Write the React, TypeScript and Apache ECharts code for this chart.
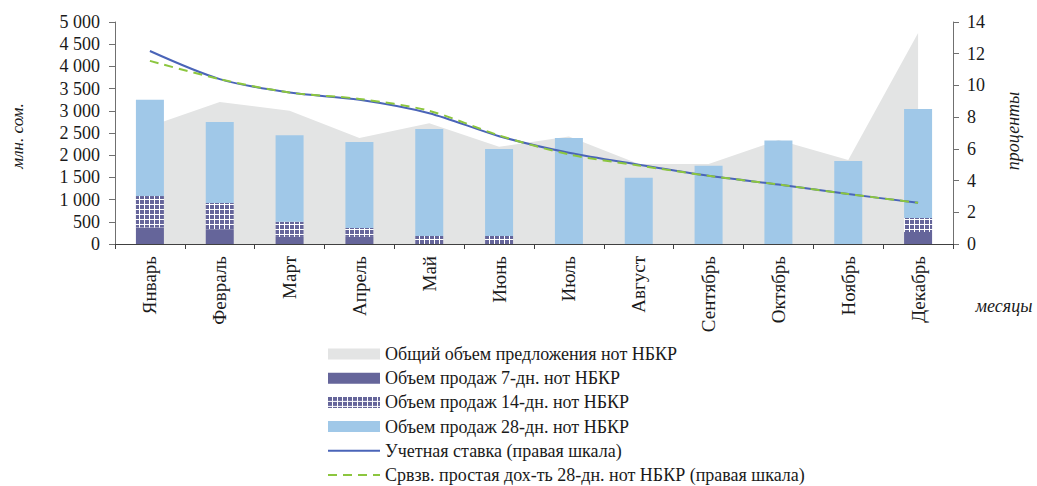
import React, { useEffect, useRef } from "react";
import * as echarts from "echarts";

const months = ["Январь", "Февраль", "Март", "Апрель", "Май", "Июнь", "Июль", "Август", "Сентябрь", "Октябрь", "Ноябрь", "Декабрь"];
const totalOffer = [2650, 3200, 3000, 2390, 2720, 2190, 2420, 1800, 1800, 2340, 1890, 4750];
const sales7 = [370, 335, 160, 160, 0, 0, 0, 0, 0, 0, 0, 270];
const sales14 = [710, 590, 340, 200, 180, 180, 0, 0, 0, 0, 0, 315];
const sales28 = [2170, 1825, 1950, 1940, 2410, 1960, 2390, 1490, 1760, 2330, 1870, 2455];
const discountRate = [12.17, 10.4, 9.55, 9.1, 8.25, 6.8, 5.75, 5.0, 4.3, 3.75, 3.15, 2.6];
const yield28 = [11.55, 10.4, 9.55, 9.15, 8.4, 6.85, 5.65, 4.95, 4.3, 3.75, 3.15, 2.6];
const leftTicks = { min: 0, max: 5000, interval: 500 };
const rightTicks = { min: 0, max: 14, interval: 2 };

const FONT = "Liberation Serif";
const TEXT = "#1a1a1a";

export default function App() {
  const ref = useRef<HTMLDivElement>(null);
  useEffect(() => {
    if (!ref.current) return;
    const chart = echarts.init(ref.current, undefined, { renderer: "svg" });
    const axisLine = { show: true, lineStyle: { color: "#707070", width: 1 } };
    const hideSymbol = { itemStyle: { opacity: 0 } };
    chart.setOption({
      animation: false,
      backgroundColor: "#ffffff",
      textStyle: { fontFamily: FONT },
      grid: { left: 115, right: 84, top: 22, bottom: 242 },
      legend: {
        orient: "vertical",
        left: 327,
        top: 345,
        padding: 0,
        itemWidth: 52,
        itemHeight: 11,
        itemGap: 6.2,
        height: 141,
        textStyle: { fontFamily: FONT, fontSize: 18, color: TEXT, lineHeight: 18 },
        data: [
          { name: "Общий объем предложения нот НБКР", icon: "rect" },
          { name: "Объем продаж 7-дн. нот НБКР", icon: "rect" },
          { name: "Объем продаж 14-дн. нот НБКР", icon: "rect" },
          { name: "Объем продаж 28-дн. нот НБКР", icon: "rect" },
          { name: "Учетная ставка (правая шкала)", ...hideSymbol },
          { name: "Срвзв. простая дох-ть 28-дн. нот НБКР (правая шкала)", ...hideSymbol },
        ],
      },
      xAxis: {
        type: "category",
        data: months,
        boundaryGap: true,
        axisLine: { show: true, lineStyle: { color: "#404040", width: 1 } },
        axisTick: { show: true, length: 5, lineStyle: { color: "#404040" } },
        axisLabel: { rotate: 90, fontFamily: FONT, fontSize: 19, color: TEXT, margin: 12, interval: 0 },
      },
      yAxis: [
        {
          type: "value",
          ...leftTicks,
          axisLine,
          axisTick: { show: true, length: 6, lineStyle: { color: "#707070" } },
          splitLine: { show: false },
          axisLabel: {
            fontFamily: FONT,
            fontSize: 18,
            color: TEXT,
            margin: 15,
            formatter: (v: number) => String(v).replace(/\B(?=(\d{3})+(?!\d))/g, " "),
          },
        },
        {
          type: "value",
          ...rightTicks,
          axisLine,
          axisTick: { show: true, length: 6, lineStyle: { color: "#707070" } },
          splitLine: { show: false },
          axisLabel: { fontFamily: FONT, fontSize: 18, color: TEXT, margin: 14 },
        },
      ],
      graphic: [
        {
          type: "text",
          x: 17,
          y: 136,
          rotation: Math.PI / 2,
          style: { text: "млн. сом.", font: `italic 17px "${FONT}"`, fill: TEXT, align: "center", verticalAlign: "middle" },
        },
        {
          type: "text",
          x: 1013,
          y: 131,
          rotation: Math.PI / 2,
          style: { text: "проценты", font: `italic 18px "${FONT}"`, fill: TEXT, align: "center", verticalAlign: "middle" },
        },
        {
          type: "text",
          x: 1004,
          y: 306,
          style: { text: "месяцы", font: `italic 18px "${FONT}"`, fill: TEXT, align: "center", verticalAlign: "middle" },
        },
      ],
      series: [
        {
          name: "Общий объем предложения нот НБКР",
          type: "line",
          data: totalOffer,
          yAxisIndex: 0,
          symbol: "none",
          lineStyle: { width: 0, color: "#e3e4e4" },
          itemStyle: { color: "#e3e4e4" },
          areaStyle: { color: "#e3e4e4", opacity: 1 },
          z: 1,
        },
        {
          name: "Объем продаж 7-дн. нот НБКР",
          type: "bar",
          stack: "sales",
          data: sales7,
          barWidth: 28,
          itemStyle: { color: "#65659a" },
          z: 2,
        },
        {
          name: "Объем продаж 14-дн. нот НБКР",
          type: "bar",
          stack: "sales",
          data: sales14,
          barWidth: 28,
          itemStyle: {
            color: "#ffffff",
            decal: {
              symbol: "rect",
              color: "#65659a",
              dashArrayX: [[4, 1]],
              dashArrayY: [4, 1],
              symbolSize: 1,
              rotation: 0,
            },
          },
          z: 2,
        },
        {
          name: "Объем продаж 28-дн. нот НБКР",
          type: "bar",
          stack: "sales",
          data: sales28,
          barWidth: 28,
          itemStyle: { color: "#a0c8e8" },
          z: 2,
        },
        {
          name: "Учетная ставка (правая шкала)",
          type: "line",
          yAxisIndex: 1,
          data: discountRate,
          smooth: 0.3,
          symbol: "none",
          lineStyle: { color: "#4a64b8", width: 2 },
          itemStyle: { color: "#4a64b8" },
          z: 3,
        },
        {
          name: "Срвзв. простая дох-ть 28-дн. нот НБКР (правая шкала)",
          type: "line",
          yAxisIndex: 1,
          data: yield28,
          smooth: 0.3,
          symbol: "none",
          lineStyle: { color: "#8cc63f", width: 2, type: [9, 6] },
          itemStyle: { color: "#8cc63f" },
          z: 4,
        },
      ],
    });
    return () => chart.dispose();
  }, []);
  return (
    <div
      ref={ref}
      style={{ position: "fixed", left: 0, top: 0, width: 1037, height: 486, overflow: "hidden" }}
    />
  );
}
